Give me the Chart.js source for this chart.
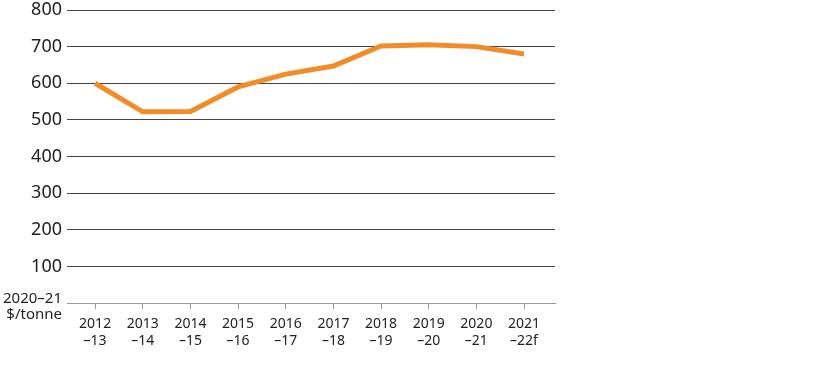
<!DOCTYPE html>
<html>
<head>
<meta charset="utf-8">
<script src="https://cdn.jsdelivr.net/npm/chart.js@4/dist/chart.umd.min.js"></script>
<style>
  html, body { margin: 0; padding: 0; background: #fff; }
  #wrap { width: 816px; height: 366px; position: relative; }
</style>
</head>
<body>
<div id="wrap"><canvas id="c"></canvas></div>
<script>
const years = ['2012', '2013', '2014', '2015', '2016', '2017', '2018', '2019', '2020', '2021']
const suffixes = ['–13', '–14', '–15', '–16', '–17', '–18', '–19', '–20', '–21', '–22f']
const prices = [600, 522, 523, 590, 625, 647, 702, 705, 700, 680]
const unitLabel = ['2020–21', '$/tonne']

const font = "'Noto Sans', 'Open Sans', sans-serif"

// unit label sits where the 0 tick would be
const unitPlugin = {
    id: 'unitLabel',
    afterDraw(chart) {
        const ctx = chart.ctx
        ctx.save()
        ctx.fillStyle = '#222'
        ctx.font = '15px ' + font
        ctx.textAlign = 'right'
        ctx.textBaseline = 'alphabetic'
        ctx.fillText(unitLabel[0], 62, 303)
        ctx.fillText(unitLabel[1], 62, 319)
        ctx.restore()
    }
}

new Chart(document.getElementById('c'), {
    type: 'line',
    data: {
        datasets: [{
            data: prices.map((v, i) => ({ x: i, y: v })),
            borderColor: '#f28c28',
            borderWidth: 5,
            pointRadius: 0,
            tension: 0,
            borderJoinStyle: 'miter',
        }]
    },
    options: {
        responsive: true,
        maintainAspectRatio: false,
        animation: false,
        layout: { padding: { top: 10, right: 261, left: 0, bottom: 0 } },
        plugins: { legend: { display: false }, tooltip: { enabled: false } },
        scales: {
            x: {
                type: 'linear',
                min: -0.59,
                max: 9.65,
                afterBuildTicks: (scale) => {
                    scale.ticks = years.map((y, i) => ({ value: i }))
                },
                afterFit: (scale) => { scale.height = 63 },
                grid: {
                    drawOnChartArea: false,
                    drawTicks: true,
                    tickLength: 6,
                    color: '#999',
                },
                border: { color: '#999', width: 1 },
                ticks: {
                    autoSkip: false,
                    maxRotation: 0,
                    padding: 6,
                    color: '#222',
                    font: { family: font, size: 14, lineHeight: 1.25 },
                    callback: (v) => [years[v], suffixes[v]],
                },
            },
            y: {
                min: 0,
                max: 800,
                afterFit: (scale) => { scale.width = 67; scale.paddingTop = 0 },
                grid: {
                    color: (c) => c.tick.value === 0 ? '#999' : '#444',
                    drawTicks: false,
                    lineWidth: 1,
                },
                border: { display: false },
                ticks: {
                    stepSize: 100,
                    padding: 5,
                    color: '#222',
                    font: { family: font, size: 18 },
                    callback: (v) => v === 0 ? '' : v,
                },
            },
        },
    },
    plugins: [unitPlugin],
})
</script>
</body>
</html>
